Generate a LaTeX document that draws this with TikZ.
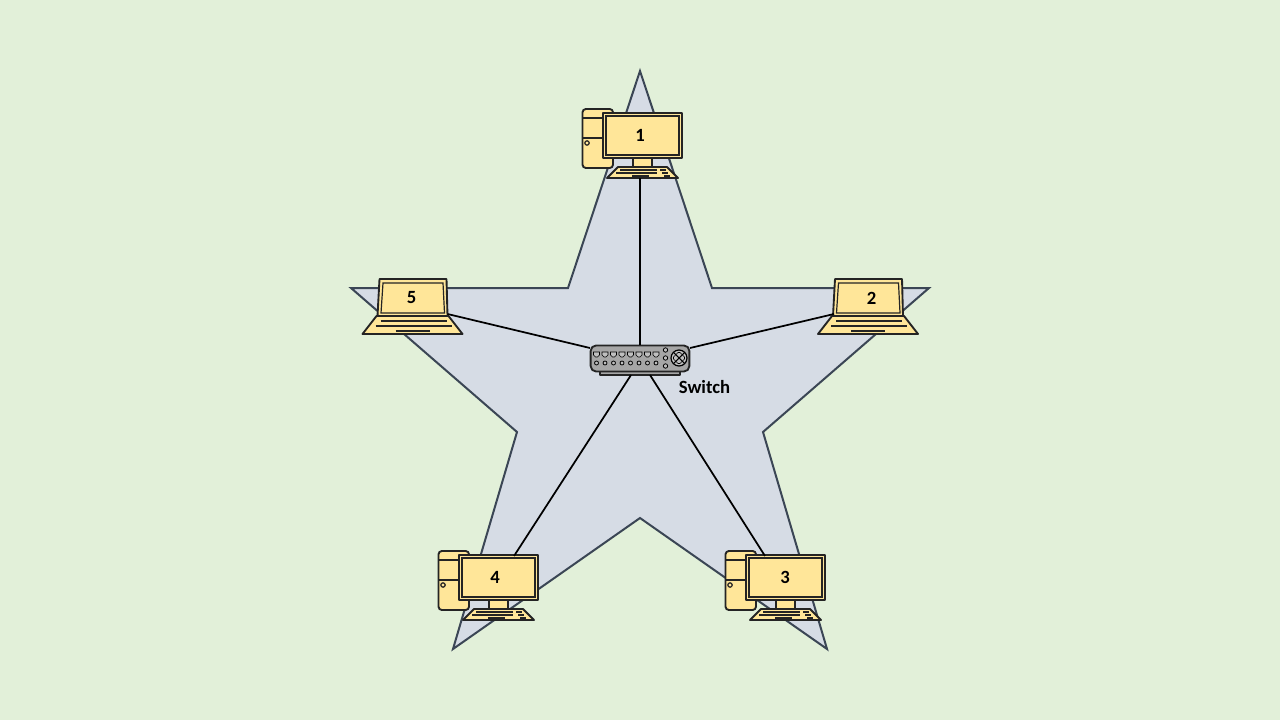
\documentclass[tikz,border=0pt]{standalone}
\usepackage{fontspec}
\setmainfont{Carlito}
\definecolor{bgc}{HTML}{E2F0D9}
\definecolor{starc}{HTML}{D6DCE5}
\definecolor{stard}{HTML}{3B4655}
\definecolor{dev}{HTML}{FFE699}
\definecolor{swc}{HTML}{A6A6A6}
\definecolor{ink}{HTML}{242424}
\tikzset{
  outl/.style={draw=ink,line width=1.4pt,line join=round},
  thin line/.style={draw=ink,line width=0.9pt},
  label text/.style={font=\bfseries\fontsize{14}{16}\selectfont,inner sep=0pt,text=black},
  link/.style={draw=black,line width=1.3pt},
  desktop/.pic={
    \path[outl,fill=dev,rounded corners=2.5pt] (-57.5,-26) rectangle (-27,33);
    \draw[thin line,line width=1.2pt] (-57.5,-17) -- (-27,-17) (-57.5,3) -- (-27,3);
    \draw[thin line] (-53,8) circle (2.2);
    \path[outl,fill=dev] (-7,23) rectangle (12,32);
    \path[outl,fill=dev] (-37,-22) rectangle (42,23);
    \path[thin line,fill=dev] (-34,-19) rectangle (39,20);
    \path[outl,fill=dev] (-33,43) -- (38,43) -- (27,32) -- (-22,32) -- cycle;
    \draw[line width=1.5pt,ink] (-20,35) -- (17,35) (20,35) -- (26,35)
      (-24,38) -- (17,38) (22,38) -- (28,38)
      (-8,41) -- (9,41) (24,41) -- (30,41);
    \coordinate (-keys) at (0,43);
  },
  laptop/.pic={
    \path[outl,fill=dev] (-36,-19) -- (31,-19) -- (32,18) -- (-38,18) -- cycle;
    \path[thin line,fill=dev] (-32.5,-15) -- (27.5,-15) -- (29,15) -- (-34.5,15) -- cycle;
    \path[outl,fill=dev] (-39,18) -- (33,18) -- (47,36) -- (-53,36) -- cycle;
    \draw[line width=1.3pt,ink] (-35,23) -- (31,23) (-40,28) -- (36,28) (-20,33) -- (14,33);
    \coordinate (-left) at (-37,16);
    \coordinate (-right) at (32,16);
  }
}
\begin{document}
\begin{tikzpicture}[x=0.75pt,y=-0.75pt]
\useasboundingbox (0,0) rectangle (1280,720);
\fill[bgc] (0,0) rectangle (1280,720);
\path[fill=starc,draw=stard,line width=1.5pt,line join=miter]
  (640,71) -- (712,288) -- (929,288) -- (763,432) -- (827,649) -- (640,518)
  -- (453,649) -- (517,432) -- (351,288) -- (568,288) -- cycle;
% switch
\path[outl,fill=swc] (600,371) rectangle (680,375);
\node[outl,fill=swc,rounded corners=4pt,minimum width=74pt,minimum height=19.5pt,inner sep=0pt] (sw) at (640,358.5) {};
\foreach \i in {0,...,7}{
  \draw[line width=0.5pt,fill=white!75!black] ({596.5+8.5*\i-3},352) -- ({596.5+8.5*\i+3},352) -- ({596.5+8.5*\i+3},355) -- ({596.5+8.5*\i+1},357) -- ({596.5+8.5*\i-1},357) -- ({596.5+8.5*\i-3},355) -- cycle;
  \draw[line width=0.6pt,fill=white!75!black] ({596.5+8.5*\i},363) circle (2);
}
\foreach \y in {350,358,366} \draw[line width=0.6pt,fill=white!75!black] (665.5,\y) circle (2.2);
\draw[line width=0.9pt,fill=white!75!black] (679,358) circle (8);
\draw[line width=0.8pt] (679,358) ++(-5.5,-5.5) -- ++(11,11) (679,358) ++(5.5,-5.5) -- ++(-11,11);
\draw[line width=0.5pt,rounded corners=1pt] (679,351.5) -- (685.5,358) -- (679,364.5) -- (672.5,358) -- cycle;
\coordinate (swn) at (640,345);
\coordinate (swe) at (690,348);
\coordinate (sww) at (590,348);
\coordinate (swsl) at (631,375);
\coordinate (swsr) at (650,375);
\node[label text] (swlabel) at (704.5,387) {Switch};
% devices
\pic (pc1) at (640,135) {desktop};
\pic (pc3) at (783,577) {desktop};
\pic (pc4) at (496,577) {desktop};
\pic (lap2) at (871,298) {laptop};
\pic (lap5) at (415.5,298) {laptop};
\node[label text] (n1) at (640,135) {1};
\node[label text] (n2) at (871.5,298) {2};
\node[label text] (n3) at (785,577) {3};
\node[label text] (n4) at (495,577) {4};
\node[label text] (n5) at (411.5,298) {5};
\coordinate (c3) at (765,556);
\coordinate (c4) at (514,556);
% connectors
\draw[link] (pc1-keys) -- (swn);
\draw[link] (lap2-left) -- (swe);
\draw[link] (lap5-right) -- (sww);
\draw[link] (c3) -- (swsr);
\draw[link] (c4) -- (swsl);
\end{tikzpicture}
\end{document}
